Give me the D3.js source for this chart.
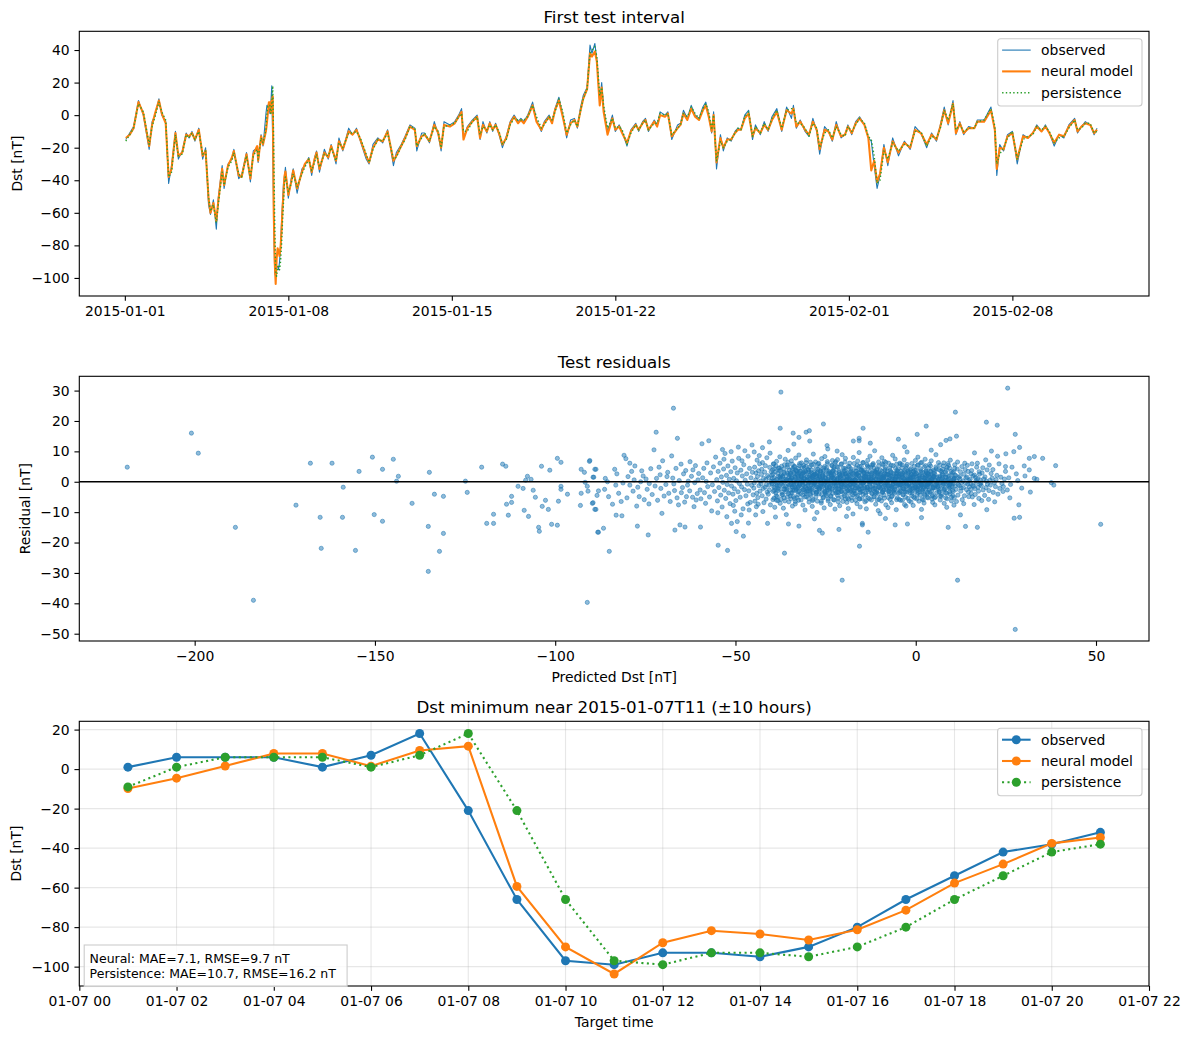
<!DOCTYPE html>
<html>
<head>
<meta charset="utf-8">
<script src="https://cdn.jsdelivr.net/npm/d3@7"></script>
<style>
  body { margin: 0; background: #fff; }
  svg { display: block; font-family: "DejaVu Sans", sans-serif; }
</style>
</head>
<body>
<svg id="fig" width="1190" height="1040"></svg>
<script>
/* ---------------------------------------------------
   Data: first test interval (hours after 2015-01-01 00:00)
--------------------------------------------------- */

const testHours = [
  1,5,9,14,19, 25,28,31,35,38, 42,45,48,52,55, 59,63,66,69,72, 76,80,83,86,88, 91,94,96,100,102, 106,110,112,117,120, 125,129,132,136,137, 140,142,
  145,146,147,148,149,150,151,152,153,154,155,156,157,158,159,160,161,162,163,164,165,
  168,171,173,177,182, 185,189,192,195,197, 200,205,209,212,217, 220,224,230,234,238, 242,248,251,255,260, 265,270,276,279,284, 288,293,298,300,305, 308,313,318,322,325, 328,334,339,343,
  346,348,352,357,362, 365,368,372,375,378, 381,385,388,392,396, 400,404,407,410,414, 419,423,428,431,436, 439,442,446,450,454, 458,462,465,468,471, 475,478,480,483,485, 488,490,492,496,501, 504,508,511,516,520, 525,528,532,535,538, 544,547,550,555,558, 562,568,571,574,578, 582,586,590,594,597, 600,603,605,608,612, 615,619,623,627,630, 633,637,641,645,648, 653,657,661,665,670, 675,680,
  685,687,690,694,699, 703,707,711,714,719, 723,727,731,736,740, 743,747,751,755,760, 764,767,770,773,776, 780,784,789,795,801, 807,812,818,824,829, 834,838,842,846,851, 854,858,862,867,873, 876,883,890,894,896, 899,903,907,912,917, 923,928,933,937,942, 946,950,955,960,965, 970,976,979,983,987, 992,996,999
];

const testObserved = [
  -15,-11,-7,9,0, -21,-4,0,10,0, -4,-42,-31,-10,-27, -22,-11,-14,-10,-16, -8,-27,-20,-55,-61, -52,-70,-51,-31,-45, -30,-27,-21,-39,-37, -23,-41,-22,-20,-29, -12,-19,
  1,6,6,6,1,7,18,-21,-66,-97,-99,-93,-93,-95,-90,-80,-66,-54,-42,-38,-32,
  -51,-39,-33,-48,-33, -31,-26,-37,-26,-22, -35,-21,-27,-18,-30, -14,-22,-8,-12,-8, -16,-27,-30,-18,-14, -17,-9,-31,-23,-18, -13,-6,-8,-22,-11, -11,-17,-4,-12,-22, -4,-6,-4,0,
  4,-14,-7,-3,0, -15,-4,-11,-4,-10, -5,-13,-20,-13,-4, 0,-4,-2,-4,0, 8,-3,-10,-4,0, -4,4,11,0,-14, -3,-2,-8,4,12, 17,43,38,44,34, 8,20,4,-10,0, -10,-6,-10,-19,-9, -5,-10,-4,-2,-10, -3,-6,2,0,2, -15,-6,-5,3,-2, 6,0,-2,5,8, 0,-11,2,-33,-12, -22,-14,-16,-10,-8, -9,0,3,-15,-6, -12,-4,-10,-1,4, -10,5,
  -2,6,-8,-3,-10, -13,-2,-10,-24,-7, -10,-16,-4,-14,-12, -6,-12,-4,-1,-6, -14,-16,-31,-45,-37, -18,-31,-14,-25,-16, -21,-7,-11,-20,-11, -16,-6,5,-6,9, -12,-4,-12,-7,-8, -3,-3,5,-10,-37, -18,-22,-12,-10,-30, -12,-14,-11,-6,-10, -6,-11,-19,-12,-14, -6,-2,-11,-7,-4, -6,-12,-8
];

const testNeural = [
  -14,-12,-8,8,1, -19,-6,1,9,1, -5,-38,-33,-11,-25, -23,-12,-13,-11,-15, -9,-25,-22,-51,-60, -54,-65,-53,-33,-43, -31,-26,-22,-37,-38, -24,-39,-24,-19,-28, -13,-18,
  -9.8,-4.6,1.6,7.9,7.9,1.5,9.4,11.6,-59.4,-90,-103.7,-87.9,-81.8,-83.5,-86.5,-81.3,-71.4,-57.7,-48.1,-37.6,-34.6,
  -49,-41,-34,-45,-35, -30,-27,-35,-27,-23, -33,-23,-26,-19,-28, -16,-21,-10,-12,-9, -15,-25,-29,-20,-15, -16,-10,-28,-25,-19, -14,-7,-9,-19,-13, -12,-16,-6,-11,-20, -6,-7,-5,-1,
  2,-15,-8,-4,-1, -14,-6,-10,-5,-9, -6,-12,-18,-14,-5, -1,-5,-3,-5,-1, 6,-4,-9,-5,-1, -5,3,9,-1,-12, -5,-3,-7,2,10, 16,38,36,39,33, 6,17,2,-12,-2, -9,-7,-11,-17,-10, -6,-9,-5,-3,-9, -4,-7,0,-1,1, -13,-8,-6,1,-3, 4,-1,-3,3,6, -1,-10,0,-29,-14, -20,-15,-15,-11,-9, -9,-2,1,-13,-8, -11,-6,-9,-3,2, -9,3,
  1,4,-7,-4,-9, -12,-4,-9,-21,-9, -10,-15,-6,-13,-12, -7,-11,-5,-2,-6, -14,-34,-28,-41,-36, -20,-29,-16,-23,-17, -20,-9,-11,-18,-12, -15,-7,3,-5,7, -11,-5,-11,-8,-8, -4,-4,3,-9,-33, -20,-21,-13,-11,-27, -13,-14,-11,-7,-10, -7,-11,-17,-12,-13, -7,-3,-10,-7,-5, -6,-11,-9
];

const testPersistence = [
  -16,-12,-8,7,2, -18,-7,-1,8,2, -3,-38,-35,-12,-25, -24,-12,-14,-11,-15, -10,-24,-22,-50,-59, -55,-66,-55,-35,-43, -32,-28,-23,-36,-38, -25,-38,-25,-21,-27, -14,-17,
  -9,1,6,6,6,1,7,18,-21,-66,-97,-99,-93,-93,-95,-90,-80,-66,-54,-42,-38,
  -47,-42,-36,-44,-36, -32,-27,-34,-29,-24, -32,-24,-25,-20,-28, -17,-20,-11,-11,-10, -14,-24,-29,-21,-15, -16,-11,-27,-26,-19, -15,-7,-8,-19,-14, -11,-16,-7,-10,-20, -7,-6,-5,-1,
  1,-10,-10,-4,-1, -12,-7,-9,-6,-9, -6,-11,-18,-15,-6, -2,-3,-3,-3,-1, 6,-1,-8,-6,-1, -3,2,10,2,-11, -6,-3,-7,2,10, 16,38,40,42,36, 12,17,6,-8,-2, -8,-7,-9,-18,-11, -6,-9,-5,-3,-9, -5,-5,1,0,1, -12,-8,-6,1,-1, 5,1,-2,4,7, 2,-9,0,-28,-16, -20,-16,-15,-11,-8, -9,-1,2,-13,-7, -11,-5,-9,-2,3, -8,3,
  4,4,-5,-5,-8, -13,-5,-8,-20,-11, -9,-14,-7,-12,-13, -7,-10,-6,-2,-5, -13,-15,-25,-42,-40, -22,-27,-17,-22,-18, -19,-10,-10,-19,-13, -14,-8,3,-3,7, -9,-6,-10,-8,-8, -4,-3,4,-7,-30, -24,-20,-14,-10,-27, -15,-13,-12,-7,-9, -7,-10,-17,-14,-13, -8,-3,-9,-8,-5, -5,-11,-10
];

const testDateTicks = ["2015-01-01", "2015-01-08", "2015-01-15", "2015-01-22", "2015-02-01", "2015-02-08"];

/* ---------------------------------------------------
   Data: residuals (predicted Dst, residual), all test hours
--------------------------------------------------- */

const residSparse = [
  [-218.7,4.8],[-200.9,16],[-199,9.4],[-188.7,-15],[-183.7,-39],[-171.9,-7.7],[-167.9,6.1],[-165.2,-11.7],[-164.9,-21.9],[-161.9,6.1],
  [-159,-11.7],[-158.8,-1.8],[-155.4,-22.6],[-154.4,3.4],[-150.7,8.1],[-150.2,-10.8],[-147.9,4.1],[-147.9,-13],[-144.9,7.4],[-144,0.2],
  [-143.5,1.8],[-139.7,-7.1],[-135.2,-14.7],[-135.2,-29.5],[-134.9,3.1],[-133.5,-4.1],[-132.1,-22.9],[-131,-4.8],[-131,-17],[-124.9,0.2],
  [-124.4,-3.5],[-120.4,4.8],[-119,-13.7],[-117.1,-10.7],[-117.1,-13.7],[-114.6,5.8],[-113.7,5.1],[-113.5,-7.4],[-113,-11],[-112.1,-4.8],
  [-112.1,-6.8],[-110.3,-1.5],[-108.9,-2.2],[-108.6,-9.4],[-108.2,0.5],[-107.7,1.8],[-107.4,-11.4],[-106.7,0.8],[-106.1,-2.8],[-105.5,-5.1],
  [-104.6,-15],[-104.4,-16.3],[-103.8,5.1],[-103.6,-8.1],[-102.7,-6.1],[-101.9,-9.1],[-101.5,3.8],[-101,-14],[-99.4,7.7],[-99.4,-14.3],
  [-99.1,-6.4],[-98.4,6.4],[-98.4,-1.5],[-98.4,-2.5],[-96.6,-4.1],[-93,-7.8],[-92.8,4.1],[-92.8,-3.8],[-91.9,3.1],[-91.7,-0.2],
  [-91.1,-1.5],[-91.1,-39.7],[-90.9,-3.1],[-90.5,6.7],[-89.7,-7.1],[-89.5,1.5],[-89,4.1],[-89,-9.1],[-88.4,-4.5],[-88.2,-16.6],
  [-37.4,29.5],[25.5,30.8],[-67.2,24.2],[11,22.9],[-72,16.3],[-66.1,14.3],[-25.6,19],[-37.6,17.6],[-34,16],[-30.4,16.3],
  [-29.5,16.8],[-14.6,17.6],[2.9,18.3],[0.4,15.6],[19.6,19.6],[22.6,18.6],[27.6,15.6],[8.4,13.6],[11.3,15],[9.5,14.1],
  [-17.3,13.4],[-15.7,14.3],[-15.7,13.5],[-4.8,14],[-29.4,13.4],[-32.4,14.6],[35.2,7.7],[38.8,5.3],[32.9,8.3],[31.5,7.7],
  [28.8,11.3],[27.2,9.9],[25,9.2],[21,10.1],[24.9,5],[31.5,3.9],[32.9,1.1],[30.3,1.9],[28.3,0.4],[37.6,-0.3],
  [38.3,-1.1],[24.3,-1.6],[27.3,-12],[28.8,-11.7],[51.3,-14],[27.6,-48.6],[11.6,-32.4],[-20.4,-32.4],[-15.6,-21.2],[-36.4,-23.5],
  [-54.8,-20.9],[-52.2,-22.6],[-47.8,-17.9],[-49.8,-16.4],[-25.9,-16.9],[-26.7,-16],[-21.3,-15.7],[-13.2,-16.6],[9,-15],[13.8,-14.7],
  [17.1,-15],[-2.3,-13.9],[-5.7,-14.2],[-14.8,-13.7],[-14.8,-14.2],[-85,-22.9],[-88,-16.6],[-86.6,-15.3],[-74.2,-17.5],[-77.2,-14.6],
  [-66.8,-15.9],[-64,-14.9],[-65.4,-14.2],[-59.7,-14.9],[-51.1,-13.7],[-49.5,-13.1],[-46.4,-13.6],[-44.4,-10.9],[-41.1,-13.7],[-35.3,-13.9],
  [-32.4,-14.6],[-83.1,-11],[-81.5,-11.2],[-88.7,4.1],[-90.4,7],
  [-42.5,11.2],[-38.9,-11.6],[-33.8,12.4],[-28.1,-12.2],[-24.6,11.9],[-19.2,-11.4],[-12.6,12.7],[-8.4,-12.1],[-3.1,11.5],[1.6,-11.8],
  [6.9,12.2],[12.4,-10.9],[-44.8,9.8],[-9.9,-10.5],[4.3,10.4],[-35.9,-10.8],[-21.8,10.1],[16.3,9.5],[19.7,-9.2],[-40.6,13.1]
];

const residModerate = [
  [-89.3,1.5],[-88,-3],[-89.5,-6.9],[-88.7,-9.1],[-86.1,1.1],[-85.5,0],[-86.3,-2.5],[-85.2,-4.9],[-83.5,4.1],[-83.2,-1.1],
  [-82.4,-3.8],[-81.7,-6.5],[-80.9,8.7],[-80.4,7.6],[-79.3,6.1],[-79.8,1.7],[-79.3,-1.1],[-78.1,0.6],[-77.4,-8],[-76.7,-4.9],
  [-76.3,0],[-75.6,1.9],[-74.5,-2.5],[-74,-7.3],[-72.6,10.5],[-71.9,1.1],[-71.2,4.8],[-70.7,-2.2],[-70.4,-10.4],[-69,1.7],
  [-68.5,-3.8],[-67.7,8.5],[-67.1,-0.7],[-66.5,4.4],[-65.8,-7.6],[-65,-3.6],[-64.4,2.6],[-63.6,-4.9],[-63.3,-1.1],[-62.6,6.6],
  [-61.8,3.9],[-61.5,-8.2],[-60.9,-6],[-60.4,0.6],[-59.8,-2.7],[-59.3,12.5],[-58.8,4.4],[-58.3,-7.1],[-57.7,-1.6],[-57.4,13.5],
  [-84.1,-7.4],[-82.9,2.6],[-81.2,-0.4],[-80.1,-5.3],[-78.8,3.4],[-78.4,-3.1],[-77.9,5.2],[-77.1,-1.8],[-76,3.6],[-75.3,-5.9],
  [-74.8,0.9],[-73.9,-0.6],[-73.5,4.3],[-73.1,-4.2],[-72.3,-1.4],[-71.6,-6.1],[-70.9,2.3],[-70.2,6.9],[-69.8,-4.7],[-69.3,-0.9],
  [-68.8,3.1],[-68.1,-6.5],[-67.4,1.2],[-66.9,-2.9],[-66.2,-5.3],[-65.6,0.4],[-65.1,5.8],[-64.7,-1.9],[-64.1,-6.7],[-63.8,3.7],
  [-63.1,0.2],[-62.7,-3],[-62.2,1.8],[-61.9,-5.1],[-61.3,-0.3],[-61.1,5.3],[-60.6,-3.9],[-60.2,2.7],[-59.6,-5.6],[-59.1,1.3],
  [-58.6,-3.6],[-58.1,0.1],[-57.9,6.2],[-57.2,-5],[-56.9,2.9],[-56.6,-9.6],[-56.4,-1],[-56.1,4.9],[-55.8,-3.2],[-55.5,8.1],
  [-55.2,0.7],[-55,-6.3],[-54.8,3.4],[-54.6,-1.9],[-54.3,6.1],[-54.1,-4.4],[-53.9,1.6],[-53.7,-8.3],[-53.5,-0.2],[-53.3,4.2],
  [-53.1,-2.8],[-52.9,9.3],[-52.7,-5.5],[-52.5,2.1],[-52.3,-0.9],[-52.1,5.2],[-51.9,-3.7],[-51.7,0.8],[-51.5,-7.2],[-51.3,3.3],
  [-51.1,-1.4],[-50.9,6.8],[-50.7,-4.1],[-50.5,1.1],[-50.3,-2.3],[-50.1,4.6],[-49.9,-6.2],[-49.7,0.3],[-49.5,2.9],[-49.3,-3.3],
  [-49.1,7.7],[-48.9,-0.6],[-48.7,-5.1],[-48.5,3.8],[-48.3,-1.7],[-48.1,1.9],[-47.9,-8.9],[-47.7,5.6],[-47.5,-2.6],[-47.3,0.5],
  [-47.1,-4.6],[-46.9,2.6],[-46.7,-0.8],[-46.5,8.4],[-46.3,-3],[-46.1,4.4],[-45.9,-6.8],[-45.7,1.3],[-45.5,-1.2],[-45.3,3.1],
  [-45.1,-4.3],[-54.9,-10.2],[-53.6,10.6],[-52.4,-11.5],[-51.2,9.9],[-50.2,-9.7],[-49.2,11.4],[-48.4,-10.9],[-47.4,10.2],[-46.2,-9.3],
  [-45.4,12.1],[-53.2,7.4],[-50.6,-7.8],[-48.2,6.9],[-46.6,-7.3],
  [15.1,0.8],[15.3,-2.4],[15.5,3.7],[15.7,-5],[15.9,1.9],[15.2,-0.6],[15.6,5.9],[15.4,-3.8],[15.8,-1.2],[15.35,2.6],
  [16.1,-1.5],[16.3,2.2],[16.5,-4.2],[16.7,0.4],[16.9,4.8],[16.2,-7.5],[16.6,1.4],[16.4,-2.3],[16.8,-0.2],
  [17.2,1],[17.4,-3.1],[17.6,3.3],[17.8,-0.9],[17.1,6.1],[17.5,-5.5],[17.9,0.6],[17.3,-1.8],[17.7,2.5],
  [18.1,-0.4],[18.4,2.9],[18.7,-2.7],[18.9,0.9],[18.3,-6.2],[18.6,4.6],[18.2,-1.3],
  [19.2,1.6],[19.5,-1.9],[19.8,3.9],[19.1,-4.5],[19.6,0.2],[19.4,7.2],[19.9,-0.8],
  [20.3,-2.9],[20.6,0.5],[20.9,2.7],[20.2,-5.8],[20.7,-1.1],[20.4,5.5],
  [21.2,1.2],[21.5,-3.5],[21.8,-0.3],[21.4,4],[21.9,-6.6],
  [22.1,-1.6],[22.5,2.1],[22.8,-4.1],[22.3,0.7],[22.7,8.4],
  [23.3,-2.2],[23.6,1.5],[23.9,-0.6],[23.1,5.9],[24.2,-3.2],[24.6,0.9],[24.9,3.4],
  [25.4,-2.7],[25.8,1.3],[26.3,-0.9],[26.7,4.8],[26.1,-5.3],[27.9,2.6],[29.4,-2.1],[30.1,5.2],[31.8,-3.4],[33.6,0.8],[28.6,-7.6]
];

const residCore = [
  [-44.9,-2.1],[-44.7,4.8],[-44.6,-6.4],[-44.4,0.6],[-44.3,2.9],[-44.1,-3.8],[-44,7.1],[-44.8,-0.4],[-44.2,-8.2],
  [-43.9,1.7],[-43.8,-5.2],[-43.6,3.6],[-43.5,-1.3],[-43.3,5.9],[-43.2,-3.1],[-43.1,0.2],[-43.7,-7.4],[-43.4,8.6],
  [-42.9,-0.7],[-42.8,2.4],[-42.6,-4.6],[-42.5,6.3],[-42.3,-2.2],[-42.2,1.1],[-42.1,-6.9],[-42.7,4.1],[-42.4,-9.8],
  [-41.9,3.2],[-41.8,-1.8],[-41.6,0.7],[-41.5,-5.7],[-41.3,7.9],[-41.2,-3.4],[-41.1,2],[-41.7,5.3],[-41.4,-0.9],
  [-40.9,-4.1],[-40.8,1.4],[-40.6,-2.7],[-40.5,4.7],[-40.3,-7.6],[-40.2,0.1],[-40.1,3.3],[-40.7,-1.1],[-40.4,9.4],
  [-39.9,2.2],[-39.8,-0.5],[-39.6,-5.9],[-39.5,5.8],[-39.3,1.3],[-39.2,-2.9],[-39.1,-8.4],[-39.7,3.9],[-39.4,-1.7],
  [-38.9,0.4],[-38.8,-3.6],[-38.6,6.7],[-38.5,-1.2],[-38.3,2.8],[-38.2,-6.2],[-38.1,4.5],[-38.7,-0.3],[-38.4,-4.9],
  [-37.9,-2.4],[-37.8,3.7],[-37.6,-7.1],[-37.5,1.9],[-37.3,-0.8],[-37.2,5.1],[-37.1,-4.2],[-37.7,8.2],[-37.4,0.9],
  [-36.9,1.6],[-36.8,-1.4],[-36.6,4.2],[-36.5,-5.3],[-36.3,-2.5],[-36.2,7.4],[-36.1,0.3],[-36.7,-8.7],[-36.4,2.7],
  [-35.9,-3.3],[-35.8,0.8],[-35.6,5.5],[-35.5,-0.6],[-35.3,2.3],[-35.2,-6.6],[-35.1,3.8],[-35.7,-1.9],[-35.4,10.3],
  [-34.9,0.5],[-34.8,-4.7],[-34.6,2.6],[-34.5,6.9],[-34.3,-1.6],[-34.2,-8],[-34.1,4.4],[-34.7,-2.8],[-34.4,1.2],
  [-33.9,-1],[-33.8,3.1],[-33.6,-5.5],[-33.5,1.5],[-33.3,7.8],[-33.2,-2.3],[-33.1,-0.1],[-33.7,4.9],[-33.4,-7.3],
  [-32.9,2.5],[-32.8,-2],[-32.6,0.6],[-32.5,-6.1],[-32.3,5.3],[-32.2,-0.9],[-32.1,3.4],[-32.7,-4.3],[-32.4,8.8],
  [-31.9,-3.9],[-31.8,1.8],[-31.6,-0.4],[-31.5,4.6],[-31.3,-7.7],[-31.2,2.9],[-31.1,-2.6],[-31.7,6.2],[-31.4,0.2],
  [-30.9,1],[-30.8,-5],[-30.6,3.5],[-30.5,-1.5],[-30.3,7.2],[-30.2,-3.2],[-30.1,0.7],[-30.7,-9.3],[-30.4,5],
  [-29.9,-1.3],[-29.8,4],[-29.6,-6.7],[-29.5,2.1],[-29.3,-0.2],[-29.2,6.4],[-29.1,-4.4],[-29.7,1.4],[-29.4,-2.9],
  [-28.9,3],[-28.8,-2.2],[-28.6,0.9],[-28.5,-5.8],[-28.3,5.7],[-28.2,-0.7],[-28.1,2.4],[-28.7,-8.1],[-28.4,9.1],
  [-27.9,-0.3],[-27.8,6.5],[-27.6,-3.5],[-27.5,1.7],[-27.3,-6.4],[-27.2,3.2],[-27.1,-1.8],[-27.7,4.3],[-27.4,-10.1],
  [-26.9,2],[-26.8,-4],[-26.6,5],[-26.5,-1.1],[-26.3,0.4],[-26.2,-7],[-26.1,7.6],[-26.7,-2.5],[-26.4,3.6],
  [-25.9,-2.7],[-25.8,1.2],[-25.6,-5.1],[-25.5,4.5],[-25.3,-0.5],[-25.2,8.3],[-25.1,-3.7],[-25.7,2.7],[-25.4,-8.6],
  [-24.9,0.1],[-24.8,3.9],[-24.6,-2.1],[-24.5,6],[-24.3,-6.3],[-24.2,1.5],[-24.1,-0.8],[-24.7,-4.5],[-24.4,10.8],
  [-23.9,-1.6],[-23.8,2.8],[-23.6,-4.8],[-23.5,0.6],[-23.3,5.4],[-23.2,-2.4],[-23.1,7],[-23.7,-7.5],[-23.4,1.9],
  [-22.9,3.4],[-22.8,-0.6],[-22.6,-6],[-22.5,1.3],[-22.3,-3],[-22.2,6.6],[-22.1,-1.2],[-22.7,4.1],[-22.4,-9],
  [-21.9,-2.3],[-21.8,0.9],[-21.6,4.8],[-21.5,-5.4],[-21.3,2.2],[-21.2,-0.1],[-21.1,-7.9],[-21.7,7.3],[-21.4,-3.6],
  [-20.9,1.8],[-20.8,-3.3],[-20.6,5.9],[-20.5,-0.9],[-20.3,3],[-20.2,-6.5],[-20.1,0.3],[-20.7,-1.7],[-20.4,8.9],
  [-19.9,-0.4],[-19.8,-4.6],[-19.6,2.6],[-19.5,7.7],[-19.3,-2],[-19.2,0.8],[-19.1,-6.8],[-19.7,4.4],[-19.4,-1.1],
  [-18.9,2.9],[-18.8,-1.5],[-18.6,-5.7],[-18.5,0.2],[-18.3,6.1],[-18.2,-3.1],[-18.1,1.6],[-18.7,-8.8],[-18.4,4.9],
  [-17.9,-2.8],[-17.8,3.6],[-17.6,0.5],[-17.5,-4.3],[-17.3,8],[-17.2,-0.8],[-17.1,2.3],[-17.7,-6.2],[-17.4,-10.6],
  [-16.9,0.7],[-16.8,-3.9],[-16.6,4.6],[-16.5,-1.4],[-16.3,-7.2],[-16.2,2.7],[-16.1,6.8],[-16.7,-0.2],[-16.4,-4.8],
  [-15.9,-1.9],[-15.8,1.9],[-15.6,5.1],[-15.5,-5.6],[-15.3,0],[-15.2,-3.4],[-15.1,3.8],[-15.7,9.6],[-15.4,-8.3],
  [-14.9,2.4],[-14.8,-0.7],[-14.6,-4.1],[-14.5,6.3],[-14.3,1.1],[-14.2,-2.2],[-14.1,-6.6],[-14.7,3.5],[-14.4,-0.3],
  [-13.9,-3.7],[-13.8,0.4],[-13.6,3.1],[-13.5,-1.8],[-13.3,7.1],[-13.2,-5.3],[-13.1,1.3],[-13.7,-8.9],[-13.4,5.2],
  [-12.9,1.5],[-12.8,-2.6],[-12.6,-0.1],[-12.5,4.7],[-12.3,-6],[-12.2,2.1],[-12.1,-3.8],[-12.7,8.4],[-12.4,0.6],
  [-11.9,-1.2],[-11.8,5.6],[-11.6,-4.9],[-11.5,1.7],[-11.3,-2.3],[-11.2,3.3],[-11.1,-7.4],[-11.7,0.2],[-11.4,10.2],
  [-10.9,0.9],[-10.8,-3.5],[-10.6,2.8],[-10.5,-0.4],[-10.3,6.5],[-10.2,-5.8],[-10.1,-1.6],[-10.7,4.2],[-10.4,-9.5],
  [-9.9,-2],[-9.8,3.9],[-9.6,0.1],[-9.5,-6.3],[-9.3,1.4],[-9.2,-3.2],[-9.1,5.5],[-9.7,-0.6],[-9.4,7.9],
  [-8.9,1.2],[-8.8,-4.4],[-8.6,-1],[-8.5,4.1],[-8.3,-7.6],[-8.2,2.5],[-8.1,-2.7],[-8.7,6.7],[-8.4,0.3],
  [-7.9,-0.8],[-7.8,2.3],[-7.6,-5.2],[-7.5,6.1],[-7.3,-2.1],[-7.2,0.7],[-7.1,3.7],[-7.7,-8.5],[-7.4,-3.9],
  [-6.9,3],[-6.8,-1.5],[-6.6,0.4],[-6.5,-4.7],[-6.3,5.3],[-6.2,-3],[-6.1,1.8],[-6.7,-6.9],[-6.4,8.7],
  [-5.9,-2.5],[-5.8,1],[-5.6,4.4],[-5.5,-0.2],[-5.3,-5.9],[-5.2,2.6],[-5.1,-1.3],[-5.7,7.5],[-5.4,-9.2],
  [-4.9,0.6],[-4.8,-3.8],[-4.6,2],[-4.5,-1.7],[-4.3,5.8],[-4.2,-6.1],[-4.1,3.4],[-4.7,-0.5],[-4.4,-3],
  [-3.9,-1.1],[-3.8,4.6],[-3.6,-4.3],[-3.5,1.5],[-3.3,-0.3],[-3.2,7.2],[-3.1,-7.5],[-3.7,2.9],[-3.4,-2.4],
  [-2.9,2.2],[-2.8,-2.9],[-2.6,5.1],[-2.5,-0.9],[-2.3,0.8],[-2.2,-5.5],[-2.1,3.5],[-2.7,-8],[-2.4,9.8],
  [-1.9,-0.6],[-1.8,3.2],[-1.6,-3.6],[-1.5,1.9],[-1.3,-6.7],[-1.2,0.3],[-1.1,6],[-1.7,-1.9],[-1.4,4.3],
  [-0.9,1.4],[-0.8,-2.2],[-0.6,-5],[-0.5,0],[-0.3,3.8],[-0.2,-1.4],[-0.1,7],[-0.7,-7.8],[-0.4,2.5],
  [0.1,-1.7],[0.2,2.7],[0.4,-4.2],[0.5,5.4],[0.7,-0.4],[0.8,1.2],[0.9,-6.4],[0.3,-2.9],[0.6,8.1],
  [1.1,0.5],[1.2,-3.3],[1.4,3],[1.5,-0.8],[1.7,6.4],[1.8,-5.7],[1.9,1.7],[1.3,-1.9],[1.6,-9.1],
  [2.1,-2.4],[2.2,1.3],[2.4,4.9],[2.5,-4.5],[2.7,0.2],[2.8,-1.3],[2.9,3.6],[2.3,-7],[2.6,7.4],
  [3.1,1.9],[3.2,-1],[3.4,-5.3],[3.5,2.4],[3.7,-2.6],[3.8,5.7],[3.9,0.4],[3.3,-3.9],[3.6,-0.5],
  [4.1,-0.9],[4.2,3.5],[4.4,-3.1],[4.5,0.9],[4.7,-6.8],[4.8,2],[4.9,-1.8],[4.3,6.9],[4.6,-4.7],
  [5.1,2.8],[5.2,-2],[5.4,0.6],[5.5,-5],[5.7,4.3],[5.8,-0.6],[5.9,1.5],[5.3,-7.6],[5.6,8.9],
  [6.1,-1.6],[6.2,0.3],[6.4,4],[6.5,-3.4],[6.7,1.9],[6.8,-6],[6.9,-0.2],[6.3,6.3],[6.6,-2.6],
  [7.1,0.8],[7.2,-4.2],[7.4,2.6],[7.5,-1.2],[7.7,5.2],[7.8,-2.8],[7.9,-7.1],[7.3,3.3],[7.6,-0.1],
  [8.1,-2.3],[8.2,1.6],[8.4,-0.7],[8.5,3.9],[8.7,-5.6],[8.8,0.5],[8.9,6],[8.3,-3.6],[8.6,-8.4],
  [9.1,1.1],[9.2,-1.5],[9.4,4.5],[9.5,-4],[9.7,0],[9.8,2.2],[9.9,-6.3],[9.3,-2.1],[9.6,7.1],
  [10.1,-0.4],[10.2,3],[10.4,-3.2],[10.5,1],[10.7,-5.2],[10.8,5.6],[10.9,-1.4],[10.3,0.7],[10.6,-7.7],
  [11.1,2],[11.2,-2.5],[11.4,0.2],[11.5,4.2],[11.7,-4.4],[11.8,-0.9],[11.9,1.4],[11.3,-6.5],[11.6,6.5],
  [12.1,-1.3],[12.2,0.9],[12.4,3.3],[12.5,-3.1],[12.7,-0.3],[12.8,5],[12.9,-5.9],[12.3,1.8],[12.6,-2],
  [13.1,0.3],[13.2,-1.9],[13.4,2.5],[13.5,-4.6],[13.7,4],[13.8,-0.5],[13.9,1.2],[13.3,-7.2],[13.6,6.1],
  [14.1,-2.6],[14.2,1.5],[14.4,-0.8],[14.5,3.4],[14.7,-4.9],[14.8,0.4],[14.9,-1.7],[14.3,5.4],[14.6,-3.4]
];

const residDensest = [
  [-39.8,1.1],[-39.5,-3.2],[-39.2,4.3],[-39.9,-0.7],[-39.3,-5.4],[-39.6,2.5],[-39.1,-1.9],[-39.7,0.2],[-39.4,5.9],
  [-38.2,-2.1],[-38.9,3.3],[-38.5,0.8],[-38.7,-4.6],[-38.1,1.7],[-38.4,-0.6],[-38.8,5.2],[-38.3,-2.9],[-38.6,-6.1],
  [-37.3,2.2],[-37.9,-1.3],[-37.6,0.5],[-37.1,-3.5],[-37.8,4.5],[-37.4,-5.8],[-37.7,1.4],[-37.2,-0.2],[-37.5,3.7],
  [-36.6,-2.4],[-36.2,0.9],[-36.9,-4.3],[-36.4,5.6],[-36.8,1.9],[-36.1,-1.5],[-36.5,3.1],[-36.3,-6.3],[-36.7,-0.1],
  [-35.7,2.9],[-35.3,-3.9],[-35.9,0.4],[-35.1,-1.1],[-35.5,4.8],[-35.8,-2.6],[-35.2,1.5],[-35.6,-5],[-35.4,6.4],
  [-34.4,-0.9],[-34.9,2.3],[-34.1,-2.7],[-34.6,-5.6],[-34.3,3.9],[-34.8,0.7],[-34.2,5.7],[-34.7,-3.8],[-34.5,1.2],
  [-33.5,-1.8],[-33.1,3.6],[-33.8,-0.4],[-33.3,1],[-33.9,-4.9],[-33.6,5.1],[-33.2,-2.8],[-33.7,2.6],[-33.4,-6.5],
  [-32.8,0.3],[-32.3,-3.1],[-32.6,4.4],[-32.1,-0.8],[-32.9,-5.2],[-32.5,1.9],[-32.2,6],[-32.7,-1.6],[-32.4,2.9],
  [-31.2,-1],[-31.7,1.5],[-31.4,-4.4],[-31.9,3.4],[-31.1,5.3],[-31.6,-2.2],[-31.3,0.1],[-31.8,-6],[-31.5,2.4],
  [-30.5,3.2],[-30.1,-2.3],[-30.8,0.9],[-30.3,-4.9],[-30.6,-0.6],[-30.9,4.7],[-30.2,1.6],[-30.7,-3.4],[-30.4,6.3],
  [-29.6,-0.2],[-29.2,2.5],[-29.9,-3],[-29.4,4.9],[-29.7,-5.5],[-29.1,1.1],[-29.5,-1.9],[-29.8,3.8],[-29.3,-4],
  [-28.7,1.8],[-28.3,-1.2],[-28.9,5.5],[-28.5,-3.6],[-28.1,0.5],[-28.6,-6.2],[-28.2,3],[-28.8,-0.5],[-28.4,2.1],
  [-27.5,-2.6],[-27.9,0.6],[-27.2,4.1],[-27.7,-5],[-27.3,1.9],[-27.8,-1],[-27.1,5.8],[-27.6,-3.9],[-27.4,2.8],
  [-26.3,0.7],[-26.8,-2],[-26.5,3.5],[-26.1,-4.2],[-26.6,-0.3],[-26.9,6.1],[-26.2,-6.4],[-26.7,1.6],[-26.4,-1.4],
  [-25.8,2.1],[-25.2,-3.4],[-25.5,0.3],[-25.9,-1.5],[-25.3,5],[-25.7,-5.3],[-25.1,1.4],[-25.6,3.7],[-25.4,-0.8],
  [-24.6,-1.9],[-24.2,2.7],[-24.9,-4.1],[-24.4,0.9],[-24.7,4.6],[-24.1,-2.8],[-24.5,6.6],[-24.8,-0.1],[-24.3,-5.7],
  [-23.7,0.4],[-23.3,-2.2],[-23.9,3.1],[-23.5,-4.7],[-23.1,1.7],[-23.6,-0.9],[-23.2,5.3],[-23.8,-3.3],[-23.4,2.3],
  [-22.5,-1.3],[-22.9,1.2],[-22.2,-3.7],[-22.7,4.8],[-22.3,0.1],[-22.8,-5.9],[-22.1,2.9],[-22.6,-0.4],[-22.4,6.2],
  [-21.6,1.3],[-21.2,-2.4],[-21.9,5],[-21.4,-0.5],[-21.7,-4.5],[-21.1,2.4],[-21.5,-6.6],[-21.8,0.6],[-21.3,3.6],
  [-20.8,-0.6],[-20.3,2.2],[-20.6,-3.2],[-20.1,4.4],[-20.9,1],[-20.5,-5.1],[-20.2,0.1],[-20.7,5.7],[-20.4,-1.8],
  [-19.4,2.6],[-19.9,-1.6],[-19.2,0.3],[-19.7,-4],[-19.3,4],[-19.8,1.5],[-19.1,-2.5],[-19.6,6.5],[-19.5,-5.6],
  [-18.5,-0.9],[-18.1,3.3],[-18.8,-2.9],[-18.3,0.8],[-18.9,-5.3],[-18.4,2],[-18.7,5.1],[-18.2,-1.1],[-18.6,-3.8],
  [-17.6,1.1],[-17.2,-3],[-17.9,4.2],[-17.4,-0.3],[-17.8,-5.2],[-17.3,2.7],[-17.7,-1.7],[-17.1,6],[-17.5,0.2],
  [-16.3,-2],[-16.8,0.6],[-16.5,3.6],[-16.1,-4.5],[-16.6,1.8],[-16.9,-0.7],[-16.2,5.4],[-16.7,-6.1],[-16.4,2.4],
  [-15.7,0.2],[-15.3,-1.4],[-15.9,2.8],[-15.5,-3.5],[-15.1,5.1],[-15.6,-5.7],[-15.2,1.2],[-15.8,-2.5],[-15.4,4],
  [-14.6,-0.5],[-14.2,3.9],[-14.8,-3.1],[-14.4,1.5],[-14.9,-5.5],[-14.3,0.2],[-14.7,6.3],[-14.1,-1.9],[-14.5,2.9],
  [-13.8,1.9],[-13.4,-2.6],[-13.1,4.7],[-13.6,-0.8],[-13.9,-4.4],[-13.3,2.5],[-13.7,-6.2],[-13.2,0.5],[-13.5,5.7],
  [-12.5,-1.7],[-12.9,0.9],[-12.2,-3.9],[-12.7,3.3],[-12.3,1.4],[-12.8,-5.6],[-12.1,5.5],[-12.6,-0.2],[-12.4,2.6],
  [-11.7,0.1],[-11.3,2.9],[-11.9,-2.3],[-11.5,-4.9],[-11.1,1],[-11.6,4.5],[-11.2,-1.2],[-11.8,6],[-11.4,-3.3],
  [-10.6,1.6],[-10.2,-1.9],[-10.8,3.8],[-10.4,-4.1],[-10.9,-0.3],[-10.3,5.2],[-10.7,-6],[-10.1,0.8],[-10.5,2.4],
  [-9.5,-0.7],[-9.9,2.4],[-9.2,-3.6],[-9.7,0.6],[-9.3,5.9],[-9.8,-5.2],[-9.1,1.8],[-9.6,-2.2],[-9.4,3.4],
  [-8.6,2.7],[-8.2,-0.4],[-8.9,-2.8],[-8.4,4.8],[-8.7,-5.4],[-8.1,0.7],[-8.5,-1.5],[-8.8,1.5],[-8.3,6.4],
  [-7.7,-1.4],[-7.3,1.4],[-7.9,3.5],[-7.5,-3.3],[-7.1,-5.8],[-7.6,0.2],[-7.2,4.6],[-7.8,-0.5],[-7.4,2.2],
  [-6.5,0.9],[-6.9,-2.3],[-6.2,2.7],[-6.7,-4.9],[-6.3,-0.6],[-6.8,5.4],[-6.1,-3.4],[-6.6,1.8],[-6.4,-1.1],
  [-5.6,-0.4],[-5.2,3.7],[-5.9,-3.8],[-5.4,1.7],[-5.8,-1.7],[-5.3,5.8],[-5.7,0.8],[-5.1,-5.3],[-5.5,2.8],
  [-4.7,1.5],[-4.3,-1.1],[-4.9,4.3],[-4.5,-3.5],[-4.1,0.3],[-4.6,-5.8],[-4.2,2.5],[-4.8,-0.9],[-4.4,6.1],
  [-3.6,-1.9],[-3.2,0.9],[-3.9,2.2],[-3.4,-4.2],[-3.8,5.6],[-3.3,-0.4],[-3.7,-6.1],[-3.1,3.1],[-3.5,1.3],
  [-2.5,0.4],[-2.9,-3.4],[-2.2,1.3],[-2.7,4.4],[-2.3,-1.4],[-2.8,-5.1],[-2.1,2.9],[-2.6,-0.6],[-2.4,5.7],
  [-1.7,1.6],[-1.3,-2.5],[-1.9,-0.9],[-1.5,3.9],[-1.1,-4.6],[-1.6,0.5],[-1.2,2.4],[-1.8,-6.3],[-1.4,-1.5],
  [-0.6,-0.3],[-0.2,2.3],[-0.9,-3],[-0.4,5.1],[-0.8,0.9],[-0.3,-5.4],[-0.7,3.4],[-0.1,-1.8],[-0.5,1.5],
  [0.4,0.9],[0.8,-1.6],[0.1,3.8],[0.6,-3.5],[0.2,-0.1],[0.7,5.6],[0.3,-5.6],[0.9,1.9],[0.5,-2.2],
  [1.5,-0.8],[1.1,2.1],[1.8,-2.7],[1.3,4.3],[1.7,0.5],[1.2,-4.4],[1.6,-1.3],[1.9,3.1],[1.4,6.2],
  [2.6,1.2],[2.2,-1.8],[2.9,0.1],[2.4,-4.1],[2.8,3.4],[2.3,-0.9],[2.7,5.3],[2.1,-6],[2.5,2.3],
  [3.7,-0.2],[3.3,2.8],[3.9,-3.3],[3.5,0.8],[3.1,-1.7],[3.6,4.5],[3.2,-5.1],[3.8,1.6],[3.4,-0.9],
  [4.4,0.4],[4.8,-2.1],[4.2,2.4],[4.6,-4.3],[4.1,5.2],[4.7,1.1],[4.3,-0.6],[4.9,3.8],[4.5,-5.7],
  [5.5,-1.2],[5.1,1.7],[5.8,-3.6],[5.3,3.5],[5.7,0.1],[5.2,-5.3],[5.6,4.9],[5.9,-0.8],[5.4,2.3],
  [6.6,1.4],[6.2,-2.2],[6.9,3.6],[6.4,-0.3],[6.8,-4.7],[6.3,0.9],[6.7,5.5],[6.1,-1.5],[6.5,-3.2],
  [7.7,-0.6],[7.3,2.1],[7.9,-2.5],[7.5,4.1],[7.1,-4.8],[7.6,0.5],[7.2,-1.4],[7.8,6.2],[7.4,1.3],
  [8.4,1.5],[8.8,-1.1],[8.2,3.2],[8.6,-3.8],[8.1,0.2],[8.7,4.7],[8.3,-5.3],[8.9,-0.2],[8.5,2.4],
  [9.6,-1.8],[9.2,0.7],[9.8,3.4],[9.4,-3.3],[9.1,5.4],[9.7,-0.4],[9.3,1.9],[9.9,-5.1],[9.5,-0.9],
  [10.6,0.8],[10.2,-2.8],[10.9,2.2],[10.4,-0.7],[10.8,4.4],[10.3,-4.6],[10.7,1.2],[10.1,-1.6],[10.5,3.3]
];

const residPeak = [
  [-34.55,0.6],[-34.15,-1.8],[-34.85,2.9],[-34.35,-3.6],[-34.75,-0.9],
  [-33.45,1.7],[-33.05,-0.6],[-33.65,-2.9],[-33.25,3.8],[-33.85,0.2],
  [-32.35,-1.4],[-32.75,2.2],[-32.15,0.9],[-32.55,-3.3],[-32.95,3.5],
  [-31.65,0.5],[-31.25,-2.6],[-31.85,1.9],[-31.45,-0.8],[-31.05,3.1],
  [-30.55,-1.9],[-30.15,0.3],[-30.75,2.6],[-30.35,-3.9],[-30.95,1.2],
  [-29.45,0.8],[-29.05,-1.1],[-29.65,3.3],[-29.25,-2.4],[-29.85,-0.4],
  [-28.35,2.1],[-28.75,-2.8],[-28.15,-0.3],[-28.55,1.4],[-28.95,3.9],
  [-27.65,-1.6],[-27.25,0.9],[-27.85,2.5],[-27.45,-3.4],[-27.05,0.1],
  [-26.55,1.8],[-26.15,-0.7],[-26.75,-2.3],[-26.35,3.2],[-26.95,0.4],
  [-25.45,-1.2],[-25.05,2.4],[-25.65,0.6],[-25.25,-3.1],[-25.85,1.9],
  [-24.35,0.2],[-24.75,-1.5],[-24.15,3.5],[-24.55,-2.7],[-24.95,1.1],
  [-23.65,-0.5],[-23.25,2.9],[-23.85,-2.1],[-23.45,1.2],[-23.05,-3.8],
  [-22.55,0.7],[-22.15,-1.7],[-22.75,2.4],[-22.35,-0.2],[-22.95,3.7],
  [-21.45,-2.2],[-21.05,1.5],[-21.65,-0.4],[-21.25,3.1],[-21.85,-3.5],
  [-20.35,0.9],[-20.75,-1.3],[-20.15,2.7],[-20.55,-2.9],[-20.95,0.1],
  [-19.65,-0.8],[-19.25,1.8],[-19.85,3.6],[-19.45,-3.3],[-19.05,0.5],
  [-18.55,2.3],[-18.15,-0.9],[-18.75,0.7],[-18.35,-2.4],[-18.95,1.6],
  [-17.45,-1.6],[-17.05,0.4],[-17.65,2.8],[-17.25,-3.7],[-17.85,-0.1],
  [-16.35,1.3],[-16.75,-2.1],[-16.15,-0.5],[-16.55,3.4],[-16.95,-3],
  [-15.65,0.6],[-15.25,-1.4],[-15.85,2.1],[-15.45,-2.6],[-15.05,3.8],
  [-14.55,-0.3],[-14.15,1.7],[-14.75,-2.2],[-14.35,3],[-14.95,0.9],
  [-13.45,-1.9],[-13.05,0.2],[-13.65,2.6],[-13.25,-3.2],[-13.85,1.4],
  [-12.35,0.8],[-12.75,-0.9],[-12.15,2.9],[-12.55,-2.5],[-12.95,-0.1],
  [-11.65,1.6],[-11.25,-2],[-11.85,0.3],[-11.45,3.5],[-11.05,-3.6],
  [-10.55,-0.6],[-10.15,2.2],[-10.75,-2.8],[-10.35,0.7],[-10.95,3.1],
  [-9.45,1],[-9.05,-1.6],[-9.65,2.7],[-9.25,-3.3],[-9.85,0],
  [-8.35,-0.4],[-8.75,2],[-8.15,-2.2],[-8.55,3.6],[-8.95,1.2],
  [-7.65,0.5],[-7.25,-1.3],[-7.85,2.4],[-7.45,-3],[-7.05,1.9],
  [-6.55,-1.8],[-6.15,0.1],[-6.75,3.2],[-6.35,-0.9],[-6.95,-3.5],
  [-5.45,1.5],[-5.05,-0.6],[-5.65,-2.6],[-5.25,2.9],[-5.85,0.4],
  [-4.35,-1],[-4.75,1.9],[-4.15,-3.1],[-4.55,0.6],[-4.95,3.4],
  [-3.65,0.3],[-3.25,-2.3],[-3.85,1.6],[-3.45,-0.7],[-3.05,3.7],
  [-2.55,-1.5],[-2.15,0.8],[-2.75,2.7],[-2.35,-3.4],[-2.95,0.2],
  [-1.45,1.1],[-1.05,-1.2],[-1.65,-2.9],[-1.25,2.3],[-1.85,0.6],
  [-0.35,-0.5],[-0.75,1.7],[-0.15,-2.1],[-0.55,3.3],[-0.95,-3.7],
  [0.35,0.7],[0.75,-1.5],[0.15,2.5],[0.55,-2.8],[0.95,0],
  [1.65,-0.8],[1.25,1.4],[1.85,-3.2],[1.45,3.6],[1.05,-0.2],
  [2.55,1.8],[2.15,-1],[2.75,-2.5],[2.35,0.4],[2.95,3],
  [3.45,-1.7],[3.05,0.6],[3.65,2.2],[3.25,-3.5],[3.85,-0.3],
  [4.35,0.9],[4.75,-1.9],[4.15,3.3],[4.55,-0.6],[4.95,1.6]
];

/* ---------------------------------------------------
   Data: storm window around 2015-01-07T11 (hours 01..21)
--------------------------------------------------- */

const stormHours = [1,2,3,4,5,6,7,8,9,10,11,12,13,14,15,16,17,18,19,20,21];
const stormObserved = [1,6,6,6,1,7,18,-21,-66,-97,-99,-93,-93,-95,-90,-80,-66,-54,-42,-38,-32];
const stormNeural = [-9.8,-4.6,1.6,7.9,7.9,1.5,9.4,11.6,-59.4,-90,-103.7,-87.9,-81.8,-83.5,-86.5,-81.3,-71.4,-57.7,-48.1,-37.6,-34.6];
const stormPersistence = [-9,1,6,6,6,1,7,18,-21,-66,-97,-99,-93,-93,-95,-90,-80,-66,-54,-42,-38];
const stormScores = ["Neural: MAE=7.1, RMSE=9.7 nT", "Persistence: MAE=10.7, RMSE=16.2 nT"];

/* ---------------------------------------------------
   Setup
--------------------------------------------------- */

const svg = d3.select("#fig");
const FONT = "DejaVu Sans, sans-serif";
const TICK_FS = 13.9;
const BLUE = "#1f77b4", ORANGE = "#ff7f0e", GREEN = "#2ca02c";

const left = 79.3, right = 1149;
const topBox = {y0: 31.3, y1: 296};
const midBox = {y0: 376.3, y1: 641};
const botBox = {y0: 721.3, y1: 986};

const DAY = 864e5, HOUR = 36e5;
const jan1 = Date.UTC(2015, 0, 1);
const jan7 = Date.UTC(2015, 0, 7);

function frame(box) {
  svg.append("rect")
    .attr("x", left).attr("y", box.y0)
    .attr("width", right - left).attr("height", box.y1 - box.y0)
    .attr("fill", "none").attr("stroke", "#000").attr("stroke-width", 1.1);
}

function axisStyle(g) {
  g.attr("font-size", TICK_FS).attr("font-family", FONT);
  g.select(".domain").remove();
  g.selectAll(".tick line").attr("stroke", "#000").attr("stroke-width", 1.1);
  g.selectAll(".tick text").attr("fill", "#000");
}

function xAxis(scale, box, values, fmt) {
  svg.append("g")
    .attr("transform", `translate(0,${box.y1})`)
    .call(d3.axisBottom(scale).tickValues(values).tickFormat(fmt)
      .tickSize(4.86).tickPadding(4.86).tickSizeOuter(0))
    .call(axisStyle);
}

function yAxis(scale, box, values) {
  svg.append("g")
    .attr("transform", `translate(${left},0)`)
    .call(d3.axisLeft(scale).tickValues(values).tickFormat(d3.format("d"))
      .tickSize(4.86).tickPadding(4.86).tickSizeOuter(0))
    .call(axisStyle);
}

function title(text, box) {
  svg.append("text")
    .attr("x", (left + right) / 2).attr("y", box.y0 - 8.3)
    .attr("text-anchor", "middle").attr("font-size", 16.7)
    .text(text);
}

function yLabel(text, x, box) {
  svg.append("text")
    .attr("transform", `translate(${x},${(box.y0 + box.y1) / 2}) rotate(-90)`)
    .attr("text-anchor", "middle").attr("dominant-baseline", "central")
    .attr("font-size", TICK_FS)
    .text(text);
}

function xLabel(text, y) {
  svg.append("text")
    .attr("x", (left + right) / 2).attr("y", y)
    .attr("text-anchor", "middle").attr("font-size", TICK_FS)
    .text(text);
}

function legend(x, y, w, h, rows, withMarkers) {
  const g = svg.append("g");
  g.append("rect")
    .attr("x", x).attr("y", y).attr("width", w).attr("height", h)
    .attr("rx", 3).attr("fill", "#fff").attr("fill-opacity", 0.8)
    .attr("stroke", "#cccccc").attr("stroke-width", 1.1);
  rows.forEach((r, i) => {
    const cy = y + 11.4 + i * 21.3;
    g.append("line")
      .attr("x1", x + 4.4).attr("x2", x + 33).attr("y1", cy).attr("y2", cy)
      .attr("stroke", r.color).attr("stroke-width", r.width)
      .attr("stroke-dasharray", r.dash || null);
    if (withMarkers) {
      g.append("circle").attr("cx", x + 18.7).attr("cy", cy).attr("r", 4.5).attr("fill", r.color);
    }
    g.append("text")
      .attr("x", x + 43.4).attr("y", cy + 4.9)
      .attr("font-size", TICK_FS)
      .text(r.label);
  });
}

/* ---------------------------------------------------
   TOP: first test interval
--------------------------------------------------- */

const xTop = d3.scaleUtc()
  .domain([new Date(jan1 - 1.95 * DAY), new Date(jan1 + 43.85 * DAY)])
  .range([left, right]);

const yTop = d3.scaleLinear().domain([-111.1, 51.5]).range([topBox.y1, topBox.y0]);

const testSeries = [
  {values: testObserved, color: BLUE, width: 1.1, dash: null},
  {values: testNeural, color: ORANGE, width: 2.08, dash: null},
  {values: testPersistence, color: GREEN, width: 1.4, dash: "1.4,2.3"}
];

const n = d3.min([testHours.length, testObserved.length, testNeural.length, testPersistence.length]);

testSeries.forEach(s => {
  const pts = d3.range(n).map(i => [jan1 + testHours[i] * HOUR, s.values[i]]);
  svg.append("path")
    .datum(pts)
    .attr("fill", "none")
    .attr("stroke", s.color)
    .attr("stroke-width", s.width)
    .attr("stroke-dasharray", s.dash)
    .attr("stroke-linejoin", "round")
    .attr("d", d3.line().x(d => xTop(d[0])).y(d => yTop(d[1])));
});

frame(topBox);
xAxis(xTop, topBox, testDateTicks.map(d => new Date(d + "T00:00:00Z")), d3.utcFormat("%Y-%m-%d"));
yAxis(yTop, topBox, d3.range(-100, 41, 20));
title("First test interval", topBox);
yLabel("Dst [nT]", 16.7, topBox);

legend(997.7, 38.7, 144.3, 67.3, [
  {label: "observed", color: BLUE, width: 1.1},
  {label: "neural model", color: ORANGE, width: 2.08},
  {label: "persistence", color: GREEN, width: 1.4, dash: "1.4,2.3"}
], false);

/* ---------------------------------------------------
   MIDDLE: residual scatter
--------------------------------------------------- */

const xMid = d3.scaleLinear().domain([-232, 64.7]).range([left, right]);
const yMid = d3.scaleLinear().domain([-52.4, 34.7]).range([midBox.y1, midBox.y0]);

const residPoints = residSparse.concat(residModerate, residCore, residDensest, residPeak);

svg.append("g")
  .selectAll("circle")
  .data(residPoints)
  .join("circle")
  .attr("cx", d => xMid(d[0]))
  .attr("cy", d => yMid(d[1]))
  .attr("r", 2.1)
  .attr("fill", BLUE).attr("fill-opacity", 0.5)
  .attr("stroke", BLUE).attr("stroke-opacity", 0.5).attr("stroke-width", 1);

svg.append("line")
  .attr("x1", left).attr("x2", right)
  .attr("y1", yMid(0)).attr("y2", yMid(0))
  .attr("stroke", "#000").attr("stroke-width", 1.39);

frame(midBox);
xAxis(xMid, midBox, d3.range(-200, 51, 50), d3.format("d"));
yAxis(yMid, midBox, d3.range(-50, 31, 10));
title("Test residuals", midBox);
yLabel("Residual [nT]", 24.9, midBox);
xLabel("Predicted Dst [nT]", 681.5);

/* ---------------------------------------------------
   BOTTOM: storm window
--------------------------------------------------- */

const xBot = d3.scaleUtc().domain([new Date(jan7), new Date(jan7 + 22 * HOUR)]).range([left, right]);
const yBot = d3.scaleLinear().domain([-109.8, 24.2]).range([botBox.y1, botBox.y0]);

const botXTicks = d3.range(0, 23, 2).map(h => new Date(jan7 + h * HOUR));
const botYTicks = d3.range(-100, 21, 20);

const grid = svg.append("g").attr("stroke", "#b0b0b0").attr("stroke-opacity", 0.3).attr("stroke-width", 1.1);
grid.selectAll("line.v").data(botXTicks).join("line")
  .attr("x1", d => xBot(d)).attr("x2", d => xBot(d))
  .attr("y1", botBox.y0).attr("y2", botBox.y1);
grid.selectAll("line.h").data(botYTicks).join("line")
  .attr("x1", left).attr("x2", right)
  .attr("y1", d => yBot(d)).attr("y2", d => yBot(d));

const stormSeries = [
  {values: stormObserved, color: BLUE, dash: null},
  {values: stormNeural, color: ORANGE, dash: null},
  {values: stormPersistence, color: GREEN, dash: "2.08,3.43"}
];

stormSeries.forEach(s => {
  const pts = stormHours.map((h, i) => [jan7 + h * HOUR, s.values[i]]);
  svg.append("path")
    .datum(pts)
    .attr("fill", "none")
    .attr("stroke", s.color)
    .attr("stroke-width", 2.08)
    .attr("stroke-dasharray", s.dash)
    .attr("d", d3.line().x(d => xBot(d[0])).y(d => yBot(d[1])));
  svg.append("g")
    .selectAll("circle")
    .data(pts)
    .join("circle")
    .attr("cx", d => xBot(d[0]))
    .attr("cy", d => yBot(d[1]))
    .attr("r", 4.5)
    .attr("fill", s.color);
});

frame(botBox);
xAxis(xBot, botBox, botXTicks, d3.utcFormat("%m-%d %H"));
yAxis(yBot, botBox, botYTicks);
title("Dst minimum near 2015-01-07T11 (\u00b110 hours)", botBox);
yLabel("Dst [nT]", 16.1, botBox);
xLabel("Target time", 1026.5);

legend(997.6, 728.3, 144.4, 67.4, [
  {label: "observed", color: BLUE, width: 2.08},
  {label: "neural model", color: ORANGE, width: 2.08},
  {label: "persistence", color: GREEN, width: 2.08, dash: "2.08,3.43"}
], true);

// score box, bottom left
const scoreBox = svg.append("g");
scoreBox.append("rect")
  .attr("x", 84.2).attr("y", 945).attr("width", 262.9).attr("height", 41.5)
  .attr("fill", "#fff").attr("fill-opacity", 0.8)
  .attr("stroke", "#cccccc").attr("stroke-width", 1.1);
scoreBox.selectAll("text")
  .data(stormScores)
  .join("text")
  .attr("x", 89.6)
  .attr("y", (d, i) => 963.4 + i * 14.7)
  .attr("font-size", 12.5)
  .text(d => d);
</script>
</body>
</html>
